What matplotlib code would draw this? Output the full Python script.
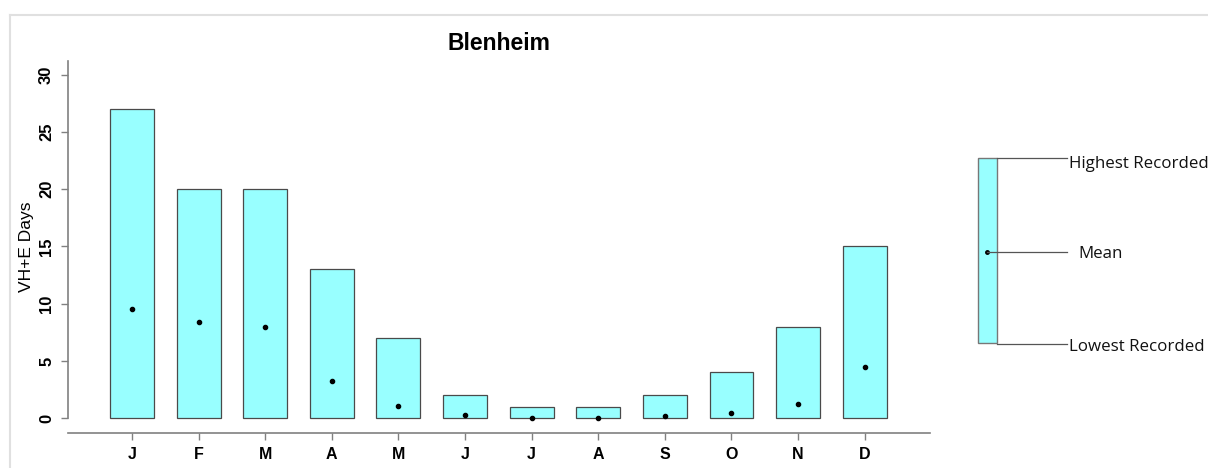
import matplotlib
matplotlib.use("Agg")
import matplotlib.pyplot as plt
from matplotlib.patches import Rectangle
from matplotlib.lines import Line2D

months = ["J", "F", "M", "A", "M", "J", "J", "A", "S", "O", "N", "D"]
highest = [27, 20, 20, 13, 7, 2, 1, 1, 2, 4, 8, 15]
lowest = [0, 0, 0, 0, 0, 0, 0, 0, 0, 0, 0, 0]
mean = [9.5, 8.4, 8.0, 3.2, 1.1, 0.3, 0.05, 0.05, 0.2, 0.45, 1.25, 4.5]
yticks = [0, 5, 10, 15, 20, 25, 30]

face = "#98FFFF"
edge = "#4a4a4a"
axis_col = "#808080"

W, H = 1208, 468
fig = plt.figure(figsize=(W / 100, H / 100), dpi=100)
fig.patch.set_facecolor("white")

ax = fig.add_axes([68 / W, 1 - 433 / H, (930 - 68) / W, (433 - 61) / H])
x = list(range(1, len(months) + 1))
heights = [h - l for h, l in zip(highest, lowest)]
ax.bar(x, heights, bottom=lowest, width=0.66, color=face, edgecolor=edge, linewidth=0.9, zorder=2)
ax.scatter(x, mean, s=9, color="black", zorder=3)

ax.set_xlim(0.04, 12.98)
ax.set_ylim(-1.3, 31.2)
ax.set_xticks(x)
ax.set_xticklabels(months, fontweight="bold", fontsize=11.5, family="Liberation Sans")
ax.set_yticks(yticks)
ax.set_yticklabels([str(v) for v in yticks], rotation=90, va="center", fontsize=12,
                   fontweight="bold", family="Liberation Sans")
for s in ["top", "right"]:
    ax.spines[s].set_visible(False)
for s in ["left", "bottom"]:
    ax.spines[s].set_color(axis_col)
    ax.spines[s].set_linewidth(1.2)
ax.spines["left"].set_bounds(0, 31.2)
ax.tick_params(axis="both", colors=axis_col, length=5, width=1)
ax.tick_params(axis="x", labelcolor="black", pad=5)
ax.tick_params(axis="y", labelcolor="black", pad=5)
ax.set_ylabel("VH+E Days", fontsize=12.5, family="Liberation Sans")
ax.yaxis.set_label_coords(-0.0394, 0.5)
ax.set_title("Blenheim", fontsize=16.5, fontweight="bold", family="Liberation Sans", pad=8)

# overlay axes in pixel coordinates for frame and legend key
ov = fig.add_axes([0, 0, 1, 1], zorder=5)
ov.set_xlim(0, W)
ov.set_ylim(H, 0)
ov.axis("off")
ov.patch.set_alpha(0)
ov.add_line(Line2D([10, W], [15, 15], color="#e0e0e0", lw=1.5))
ov.add_line(Line2D([10, 10], [15, H], color="#e0e0e0", lw=1.5))

ov.add_patch(Rectangle((978, 158), 19, 185, facecolor=face, edgecolor="#777777", lw=1))
ov.plot([987], [252], marker="o", ms=2.5, color="black")
ov.add_line(Line2D([997, 1067], [158, 158], color="#555555", lw=0.9))
ov.add_line(Line2D([987, 1067], [252, 252], color="#555555", lw=0.9))
ov.add_line(Line2D([997, 1067], [344, 344], color="#555555", lw=0.9))
lf = dict(fontsize=12.2, family="Open Sans", va="center", ha="left", color="#111111")
ov.text(1069, 164, "Highest Recorded", **lf)
ov.text(1078, 254, "Mean", **lf)
ov.text(1069, 347, "Lowest Recorded", **lf)

fig.savefig("out.png", dpi=100)
